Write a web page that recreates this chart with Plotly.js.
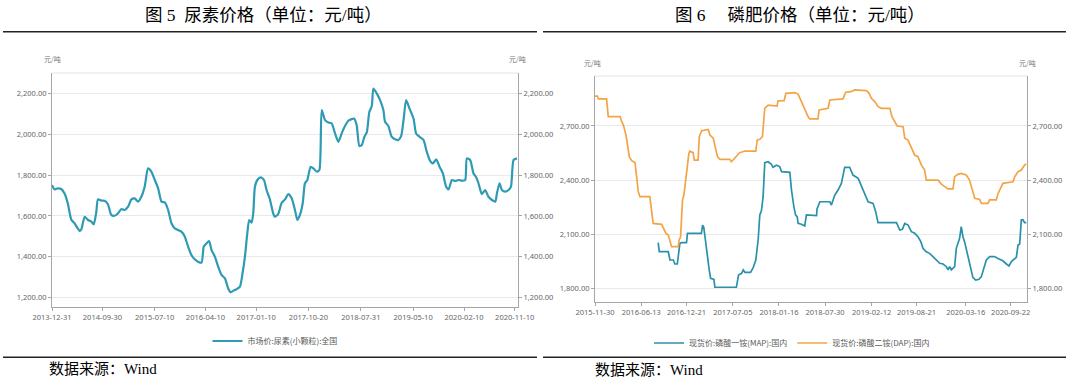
<!DOCTYPE html>
<html><head><meta charset="utf-8">
<script src="https://cdn.plot.ly/plotly-3.0.1.min.js"></script>
<style>html,body{margin:0;padding:0;background:#fff}#chart{width:1080px;height:378px}</style>
</head><body><div id="chart"></div><script>
// ---------- Figure 5: urea price ----------
const ureaName = '市场价:尿素(小颗粒):全国';
const ureaDates = ['2013-12-31','2014-01-14','2014-02-01','2014-02-19','2014-03-09','2014-03-27','2014-04-14','2014-05-02','2014-05-30','2014-06-08','2014-06-26','2014-07-14','2014-08-01','2014-08-14','2014-08-28','2014-09-06','2014-09-24','2014-10-12','2014-10-30','2014-11-17','2014-12-05','2014-12-23','2015-01-11','2015-01-29','2015-02-16','2015-03-06','2015-03-24','2015-04-11','2015-04-29','2015-05-17','2015-06-04','2015-06-22','2015-07-11','2015-07-29','2015-08-16','2015-09-03','2015-09-21','2015-10-09','2015-10-27','2015-11-14','2015-12-02','2015-12-20','2016-01-07','2016-01-25','2016-02-12','2016-03-01','2016-03-20','2016-04-01','2016-04-16','2016-04-30','2016-05-13','2016-05-31','2016-06-18','2016-07-06','2016-07-24','2016-08-11','2016-08-24','2016-09-07','2016-09-25','2016-10-14','2016-10-28','2016-11-10','2016-11-22','2016-12-03','2016-12-16','2016-12-25','2017-01-03','2017-01-16','2017-02-03','2017-02-21','2017-03-07','2017-03-25','2017-04-12','2017-04-21','2017-05-09','2017-05-27','2017-06-15','2017-07-03','2017-07-21','2017-08-08','2017-08-21','2017-09-04','2017-09-19','2017-10-01','2017-10-14','2017-11-01','2017-11-16','2017-12-04','2017-12-18','2017-12-31','2018-01-18','2018-02-05','2018-02-23','2018-03-13','2018-03-31','2018-04-18','2018-05-06','2018-05-24','2018-06-11','2018-06-24','2018-07-08','2018-07-23','2018-08-05','2018-08-19','2018-09-01','2018-09-15','2018-09-28','2018-10-07','2018-10-25','2018-11-12','2018-11-30','2018-12-09','2018-12-27','2019-01-14','2019-02-01','2019-02-19','2019-03-06','2019-03-19','2019-04-02','2019-04-20','2019-05-12','2019-05-26','2019-06-13','2019-07-05','2019-07-23','2019-08-10','2019-08-25','2019-09-12','2019-09-30','2019-10-18','2019-11-05','2019-11-18','2019-12-06','2019-12-24','2020-01-11','2020-01-29','2020-02-16','2020-02-25','2020-03-14','2020-04-01','2020-04-14','2020-04-28','2020-05-16','2020-06-03','2020-06-21','2020-07-10','2020-07-28','2020-08-06','2020-08-20','2020-09-02','2020-09-20','2020-10-08','2020-10-21','2020-11-04','2020-11-22'];
const ureaPrice = [1751,1730,1735,1732,1710,1660,1583,1564,1527,1535,1596,1580,1572,1559,1620,1681,1675,1674,1657,1605,1601,1612,1634,1629,1645,1681,1686,1670,1694,1743,1833,1817,1776,1735,1670,1666,1629,1564,1539,1531,1523,1499,1450,1409,1388,1376,1371,1450,1466,1477,1433,1401,1352,1311,1295,1246,1226,1233,1241,1254,1319,1401,1507,1580,1567,1613,1743,1776,1789,1776,1727,1682,1613,1596,1609,1662,1681,1707,1686,1629,1580,1605,1662,1760,1776,1841,1833,1817,1825,2118,2069,2058,2053,2004,1963,2004,2040,2066,2074,2077,2045,1942,1947,1988,2009,2110,2138,2224,2200,2167,2118,2061,2040,1988,1975,1972,1991,2069,2167,2127,2077,2004,1988,1972,1914,1870,1857,1877,1841,1808,1743,1730,1776,1771,1776,1773,1776,1882,1874,1808,1792,1760,1707,1727,1694,1678,1670,1711,1760,1727,1719,1727,1743,1874,1882];
const ureaXTicks = ['2013-12-31','2014-09-30','2015-07-10','2016-04-10','2017-01-10','2017-10-20','2018-07-31','2019-05-10','2020-02-10','2020-11-10'];
const ureaYTicks = [1200,1400,1600,1800,2000,2200];

// ---------- Figure 6: phosphate fertilizer prices ----------
const mapName = '现货价:磷酸一铵(MAP):国内';
const mapDates = ['2016-08-23','2016-08-28','2016-10-05','2016-10-12','2016-10-26','2016-11-02','2016-11-12','2016-11-16','2016-11-23','2016-11-30','2016-12-21','2016-12-25','2017-02-22','2017-02-27','2017-03-04','2017-03-11','2017-03-20','2017-03-27','2017-04-02','2017-04-16','2017-04-20','2017-07-20','2017-07-29','2017-08-11','2017-08-18','2017-08-25','2017-09-18','2017-09-29','2017-10-10','2017-10-20','2017-10-27','2017-11-03','2017-11-10','2017-11-17','2017-12-01','2017-12-15','2017-12-22','2018-01-05','2018-01-19','2018-01-27','2018-03-03','2018-03-10','2018-03-20','2018-03-27','2018-04-03','2018-04-07','2018-04-21','2018-05-05','2018-05-12','2018-06-24','2018-06-26','2018-07-08','2018-08-19','2018-08-26','2018-09-09','2018-09-23','2018-10-07','2018-10-14','2018-10-21','2018-11-11','2018-11-25','2018-12-17','2018-12-31','2019-01-14','2019-01-28','2019-02-18','2019-03-01','2019-03-11','2019-05-28','2019-06-11','2019-06-22','2019-07-02','2019-07-16','2019-07-30','2019-08-13','2019-08-27','2019-09-08','2019-09-17','2019-10-01','2019-10-15','2019-10-30','2019-11-13','2019-11-27','2019-12-11','2019-12-25','2020-01-01','2020-01-08','2020-01-15','2020-01-29','2020-02-05','2020-02-12','2020-02-19','2020-02-26','2020-03-04','2020-03-11','2020-03-25','2020-04-04','2020-04-15','2020-04-27','2020-05-11','2020-05-21','2020-05-31','2020-06-11','2020-06-25','2020-07-16','2020-07-30','2020-08-20','2020-09-04','2020-09-15','2020-09-25','2020-10-09','2020-10-16','2020-10-23','2020-10-30','2020-11-06','2020-11-13','2020-11-20','2020-11-27'];
const mapPrice = [2053,2003,2003,1957,1957,1935,1935,1985,2049,2053,2053,2105,2105,2151,2138,2068,1957,1902,1855,1850,1806,1806,1874,1883,1902,1889,1889,1915,1957,2068,2207,2231,2308,2497,2502,2488,2471,2482,2475,2447,2443,2345,2253,2207,2197,2160,2155,2146,2207,2203,2240,2280,2280,2262,2317,2345,2382,2438,2471,2471,2428,2410,2364,2317,2280,2271,2225,2164,2164,2123,2127,2160,2151,2114,2105,2086,2059,2022,2003,1994,1976,1957,1939,1935,1920,1902,1920,1902,1920,2022,2049,2077,2142,2086,2059,1976,1920,1861,1846,1850,1865,1905,1957,1976,1976,1966,1953,1935,1924,1948,1966,1972,2040,2046,2179,2179,2164,2164];
const dapName = '现货价:磷酸二铵(DAP):国内';
const dapDates = ['2015-11-30','2015-12-10','2015-12-14','2016-01-18','2016-01-25','2016-03-15','2016-03-22','2016-03-29','2016-04-09','2016-04-15','2016-04-23','2016-05-03','2016-05-17','2016-05-24','2016-05-31','2016-06-07','2016-07-19','2016-07-26','2016-08-02','2016-09-07','2016-09-14','2016-09-25','2016-10-05','2016-10-12','2016-10-19','2016-11-16','2016-11-20','2016-11-26','2016-12-04','2016-12-10','2016-12-17','2016-12-24','2016-12-31','2017-01-04','2017-01-18','2017-01-23','2017-02-08','2017-02-13','2017-02-23','2017-03-23','2017-03-30','2017-04-13','2017-04-20','2017-05-01','2017-05-11','2017-06-22','2017-06-29','2017-07-06','2017-07-20','2017-08-03','2017-08-25','2017-10-10','2017-10-16','2017-10-27','2017-11-07','2017-11-13','2017-11-17','2017-12-01','2017-12-29','2018-01-08','2018-01-12','2018-02-07','2018-02-14','2018-03-24','2018-04-07','2018-04-21','2018-05-05','2018-05-19','2018-05-26','2018-06-30','2018-07-05','2018-08-12','2018-08-19','2018-10-14','2018-10-25','2018-11-18','2018-12-02','2019-01-14','2019-01-21','2019-02-01','2019-02-11','2019-02-25','2019-03-11','2019-03-25','2019-04-30','2019-05-09','2019-05-21','2019-05-31','2019-06-25','2019-07-02','2019-07-16','2019-07-30','2019-08-13','2019-08-27','2019-09-10','2019-09-24','2019-10-01','2019-11-20','2019-12-04','2019-12-18','2020-01-01','2020-01-22','2020-01-29','2020-02-12','2020-02-26','2020-03-18','2020-04-01','2020-04-13','2020-04-23','2020-05-14','2020-05-21','2020-06-18','2020-06-25','2020-07-23','2020-07-30','2020-08-20','2020-09-10','2020-10-02','2020-10-09','2020-10-23','2020-11-06','2020-11-20','2020-11-27'];
const dapPrice = [2866,2866,2850,2850,2752,2752,2724,2705,2650,2604,2530,2508,2497,2419,2336,2308,2308,2234,2160,2155,2133,2105,2096,2059,2031,2031,2068,2086,2290,2317,2400,2475,2548,2560,2552,2511,2511,2641,2674,2681,2650,2632,2585,2530,2515,2515,2502,2511,2534,2552,2561,2561,2622,2626,2641,2761,2798,2816,2810,2810,2839,2840,2881,2885,2877,2835,2789,2752,2739,2739,2789,2798,2844,2850,2887,2890,2900,2900,2896,2881,2853,2835,2807,2798,2798,2752,2724,2700,2696,2632,2622,2576,2539,2530,2484,2456,2400,2400,2378,2364,2351,2351,2419,2432,2437,2428,2400,2345,2299,2293,2271,2271,2290,2290,2323,2382,2386,2391,2419,2447,2456,2484,2489];
const phosXTicks = ['2015-11-30','2016-06-13','2016-12-21','2017-07-05','2018-01-16','2018-07-30','2019-02-12','2019-08-21','2020-03-16','2020-09-22'];
const phosYTicks = [1800,2100,2400,2700];

const title5 = '图 5  尿素价格（单位：元/吨）';
const title6 = '图 6　 磷肥价格（单位：元/吨）';
const sourceText = '数据来源：Wind';
const unitText = '元/吨';

// ---------- layout helpers ----------
const W = 1080, H = 378;
const px = v => v / W;
const py = v => 1 - v / H;
const tickFont = {family: 'Noto Sans, Noto Sans CJK SC, sans-serif', size: 7.5, color: '#666'};
const serif = 'Liberation Serif, Noto Sans CJK SC, serif';
const axisLine = '#a6a6a6';
const grid = '#e9e9e9';

function xAx(domain, anchor, range, ticks) {
  return {domain, anchor, type: 'date', range, tickvals: ticks, tickformat: '%Y-%m-%d',
    ticks: 'outside', ticklen: 3, tickcolor: axisLine, showgrid: false, showline: true,
    linecolor: axisLine, linewidth: 1, tickfont: tickFont, zeroline: false, fixedrange: true};
}
function yAx(domain, anchor, range, ticks, side, overlaying) {
  const a = {domain, anchor, range, tickvals: ticks, tickformat: ',.2f', side,
    ticks: 'outside', ticklen: 3, tickcolor: axisLine, showline: true, linecolor: axisLine,
    linewidth: 1, tickfont: tickFont, zeroline: false, fixedrange: true,
    showgrid: !overlaying, gridcolor: grid, gridwidth: 1};
  if (overlaying) a.overlaying = overlaying;
  return a;
}

const xd1 = [px(52), px(518)], yd1 = [py(307), py(73)];
const xd2 = [px(595), px(1027)], yd2 = [py(301.7), py(76)];
const yr1 = [1154, 2300], yr2 = [1726, 2977];

const traces = [
  {type: 'scatter', mode: 'lines', name: ureaName, x: ureaDates, y: ureaPrice,
   xaxis: 'x', yaxis: 'y', legend: 'legend',
   line: {color: '#2e9ab4', width: 2.2, shape: 'spline', smoothing: 0.6}, hoverinfo: 'skip'},
  {type: 'scatter', mode: 'lines', name: ureaName, x: ureaDates, y: ureaPrice,
   xaxis: 'x', yaxis: 'y2', showlegend: false, line: {color: 'rgba(0,0,0,0)', width: 0}, hoverinfo: 'skip'},
  {type: 'scatter', mode: 'lines', name: mapName, x: mapDates, y: mapPrice,
   xaxis: 'x2', yaxis: 'y3', legend: 'legend2',
   line: {color: '#2a91aa', width: 1.7}, hoverinfo: 'skip'},
  {type: 'scatter', mode: 'lines', name: dapName, x: dapDates, y: dapPrice,
   xaxis: 'x2', yaxis: 'y3', legend: 'legend2',
   line: {color: '#f3a446', width: 1.7}, hoverinfo: 'skip'},
  {type: 'scatter', mode: 'lines', name: dapName, x: dapDates, y: dapPrice,
   xaxis: 'x2', yaxis: 'y4', showlegend: false, line: {color: 'rgba(0,0,0,0)', width: 0}, hoverinfo: 'skip'}
];

const legendBase = {orientation: 'h', xanchor: 'center', yanchor: 'middle', bgcolor: 'rgba(0,0,0,0)',
  font: {family: 'Noto Sans CJK SC, sans-serif', size: 8, color: '#595959'}, itemwidth: 30};

const ann = (text, x, y, opts) => Object.assign({text, x: px(x), y: py(y), xref: 'paper', yref: 'paper',
  showarrow: false, xanchor: 'center', yanchor: 'middle'}, opts || {});
const titleFont = {family: serif, size: 17.5, color: '#000'};
const srcFont = {family: serif, size: 15, color: '#000'};
const unitFont = {family: 'Noto Sans CJK SC, sans-serif', size: 7, color: '#777'};

const hline = (x0, x1, y, color, w) => ({type: 'line', xref: 'paper', yref: 'paper',
  x0: px(x0), x1: px(x1), y0: py(y), y1: py(y), line: {color, width: w}});
const topBorder = (xr, yr) => ({type: 'line', xref: xr + ' domain', yref: yr + ' domain',
  x0: 0, x1: 1, y0: 1, y1: 1, line: {color: '#e3e3e3', width: 1}});

const layout = {
  width: W, height: H, margin: {l: 0, r: 0, t: 0, b: 0, pad: 0},
  paper_bgcolor: '#fff', plot_bgcolor: '#fff', hovermode: false,
  xaxis: xAx(xd1, 'y', ['2013-12-31', '2020-11-28'], ureaXTicks),
  yaxis: yAx(yd1, 'x', yr1, ureaYTicks, 'left'),
  yaxis2: yAx(yd1, 'x', yr1, ureaYTicks, 'right', 'y'),
  xaxis2: xAx(xd2, 'y3', ['2015-11-30', '2020-11-30'], phosXTicks),
  yaxis3: yAx(yd2, 'x2', yr2, phosYTicks, 'left'),
  yaxis4: yAx(yd2, 'x2', yr2, phosYTicks, 'right', 'y3'),
  legend: Object.assign({x: px(275), y: py(341)}, legendBase),
  legend2: Object.assign({x: px(792), y: py(343)}, legendBase),
  annotations: [
    ann(title5, 263, 15, {font: titleFont}),
    ann(title6, 800, 15, {font: titleFont}),
    ann(sourceText, 47, 369, {xanchor: 'left', font: srcFont}),
    ann(sourceText, 593, 370, {xanchor: 'left', font: srcFont}),
    ann(unitText, 52, 59, {font: unitFont}),
    ann(unitText, 517, 59, {font: unitFont}),
    ann(unitText, 592, 63, {font: unitFont}),
    ann(unitText, 1027, 63, {font: unitFont})
  ],
  shapes: [
    hline(3, 537, 31.7, '#222', 1.5),
    hline(543, 1066, 31.7, '#222', 1.5),
    hline(3, 537, 357.3, '#222', 1.5),
    hline(543, 1066, 357.3, '#222', 1.5),
    topBorder('x', 'y'),
    topBorder('x2', 'y3')
  ]
};

Plotly.newPlot('chart', traces, layout, {staticPlot: true, displayModeBar: false});
</script></body></html>
